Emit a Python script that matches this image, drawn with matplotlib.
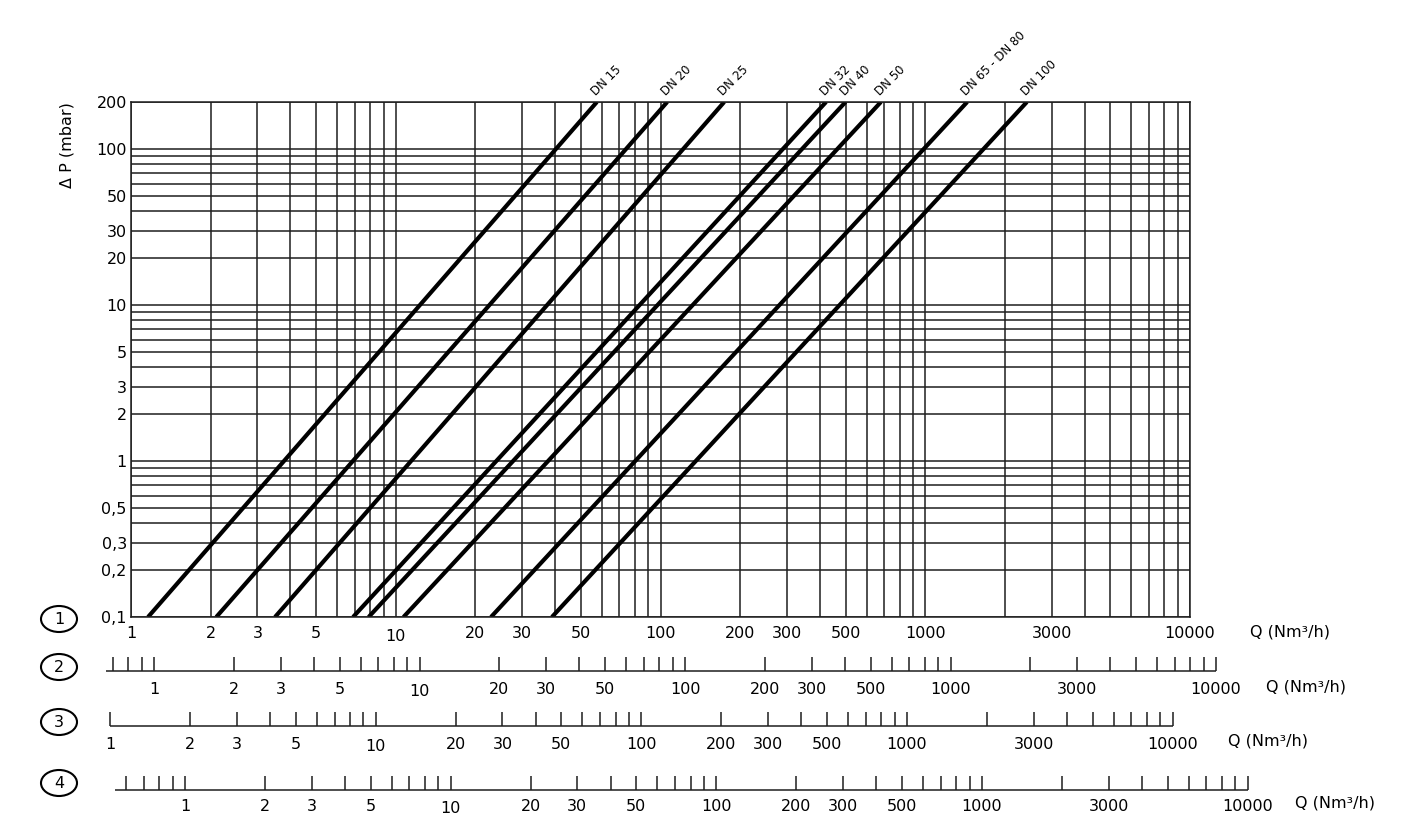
import matplotlib
matplotlib.use('Agg')
import matplotlib.pyplot as plt
import numpy as np
from matplotlib import ticker
from matplotlib.patches import Ellipse

# DN curves: flow Q (Nm3/h) where each line meets dP = 0.1 and dP = 200 mbar
dn_names = ['DN 15', 'DN 20', 'DN 25', 'DN 32', 'DN 40', 'DN 50', 'DN 65 - DN 80', 'DN 100']
q_at_low = [1.16, 2.1, 3.5, 6.9, 7.9, 10.7, 22.9, 38.9]
q_at_high = [57.5, 106, 174, 422, 500, 680, 1440, 2420]
dp_low, dp_high = 0.1, 200

# axis labels
dp_ticks = [200, 100, 50, 30, 20, 10, 5, 3, 2, 1, 0.5, 0.3, 0.2, 0.1]
dp_tick_labels = ['200', '100', '50', '30', '20', '10', '5', '3', '2', '1', '0,5', '0,3', '0,2', '0,1']
q_labels = [1, 2, 3, 5, 10, 20, 30, 50, 100, 200, 300, 500, 1000, 3000, 10000]

# alternative Q scales 2..4: first and last tick, start of the base line
scale_first_tick = [0.7, 1, 0.6]
scale_line_start = [0.66, 1, 0.545]
scale_last_tick = 10000

W, H = 1428, 838
fig = plt.figure(figsize=(W / 100, H / 100), dpi=100)
plt.rcParams['font.family'] = ['DejaVu Sans']
FS = 11.5
grid_col = '#1e1e1e'

# main chart (pixel box of the reference)
left, right, top, bottom = 131, 1190, 102, 617
ax = fig.add_axes([left / W, 1 - bottom / H, (right - left) / W, (bottom - top) / H])
ax.set_xscale('log')
ax.set_yscale('log')
ax.set_xlim(1, 10000)
ax.set_ylim(dp_low, dp_high)
ax.xaxis.set_major_locator(ticker.LogLocator(base=10))
ax.xaxis.set_minor_locator(ticker.LogLocator(base=10, subs=np.arange(2, 10)))
ax.yaxis.set_minor_locator(ticker.LogLocator(base=10, subs=np.arange(2, 10)))
ax.grid(True, which='both', color=grid_col, lw=1.1)
ax.set_yticks(dp_ticks, dp_tick_labels)
ax.yaxis.set_minor_formatter(ticker.NullFormatter())
ax.xaxis.set_major_formatter(ticker.NullFormatter())
ax.xaxis.set_minor_formatter(ticker.NullFormatter())
ax.tick_params(which='both', length=0)
ax.tick_params(axis='y', labelsize=FS, pad=3)
for s in ax.spines.values():
    s.set_color(grid_col)
    s.set_linewidth(1.1)

for name, qlo, qhi in zip(dn_names, q_at_low, q_at_high):
    ax.plot([qlo, qhi], [dp_low, dp_high], color='black', lw=3.0, solid_capstyle='butt')
    ax.annotate(name, xy=(qhi, dp_high), xytext=(1, 3), textcoords='offset points',
                rotation=45, rotation_mode='anchor', ha='left', va='bottom',
                fontsize=8.5, annotation_clip=False)


def put_q_labels(a, pad):
    for v in q_labels:
        extra = 1.5 if v == 10 else 0
        a.annotate(str(v), xy=(v, 0), xycoords=('data', 'axes fraction'),
                   xytext=(0, -pad - extra), textcoords='offset points',
                   ha='center', va='top', fontsize=FS, annotation_clip=False)


put_q_labels(ax, 6.8)
fig.text(1250 / W, 1 - 632 / H, 'Q (Nm³/h)', fontsize=FS, ha='left', va='center')
fig.text(67 / W, 1 - 145 / H, 'Δ P (mbar)', fontsize=FS, rotation=90, ha='center', va='center')

# extra scales below the chart: pixel x of Q=1 and Q=10000, base line y
rows = [
    dict(x1=154, x4=1216, y=671, pad=8.0, qx=1266, qy=687),
    dict(x1=110, x4=1172.6, y=726, pad=8.0, qx=1228, qy=741),
    dict(x1=185, x4=1247.5, y=790, pad=6.5, qx=1295, qy=803),
]
tick_h = 14
for r, first, start in zip(rows, scale_first_tick, scale_line_start):
    dec = (r['x4'] - r['x1']) / 4
    sa = fig.add_axes([0, 1 - r['y'] / H, 1, tick_h / H])
    sa.set_xscale('log')
    sa.set_xlim(10 ** (-r['x1'] / dec), 10 ** ((W - r['x1']) / dec))
    sa.set_ylim(0, 1)
    sa.axis('off')
    locs = ticker.LogLocator(base=10, subs=np.arange(1, 10)).tick_values(first, scale_last_tick)
    locs = [q for q in locs if first * 0.999 <= q <= scale_last_tick * 1.001]
    sa.vlines(locs, 0, 1, color=grid_col, lw=1.1, clip_on=False)
    sa.hlines(0, start, scale_last_tick, color=grid_col, lw=1.1, clip_on=False)
    put_q_labels(sa, r['pad'])
    fig.text(r['qx'] / W, 1 - r['qy'] / H, 'Q (Nm³/h)', fontsize=FS, ha='left', va='center')

# circled row numbers
circle_y = [619, 667, 722, 783]
for i, cy in enumerate(circle_y):
    fig.add_artist(Ellipse((59 / W, 1 - cy / H), 36 / W, 26 / H, transform=fig.transFigure,
                           fill=False, ec='black', lw=1.5))
    fig.text(59 / W, 1 - cy / H, str(i + 1), fontsize=FS, ha='center', va='center')

fig.savefig('out.png', dpi=100, facecolor='white')
